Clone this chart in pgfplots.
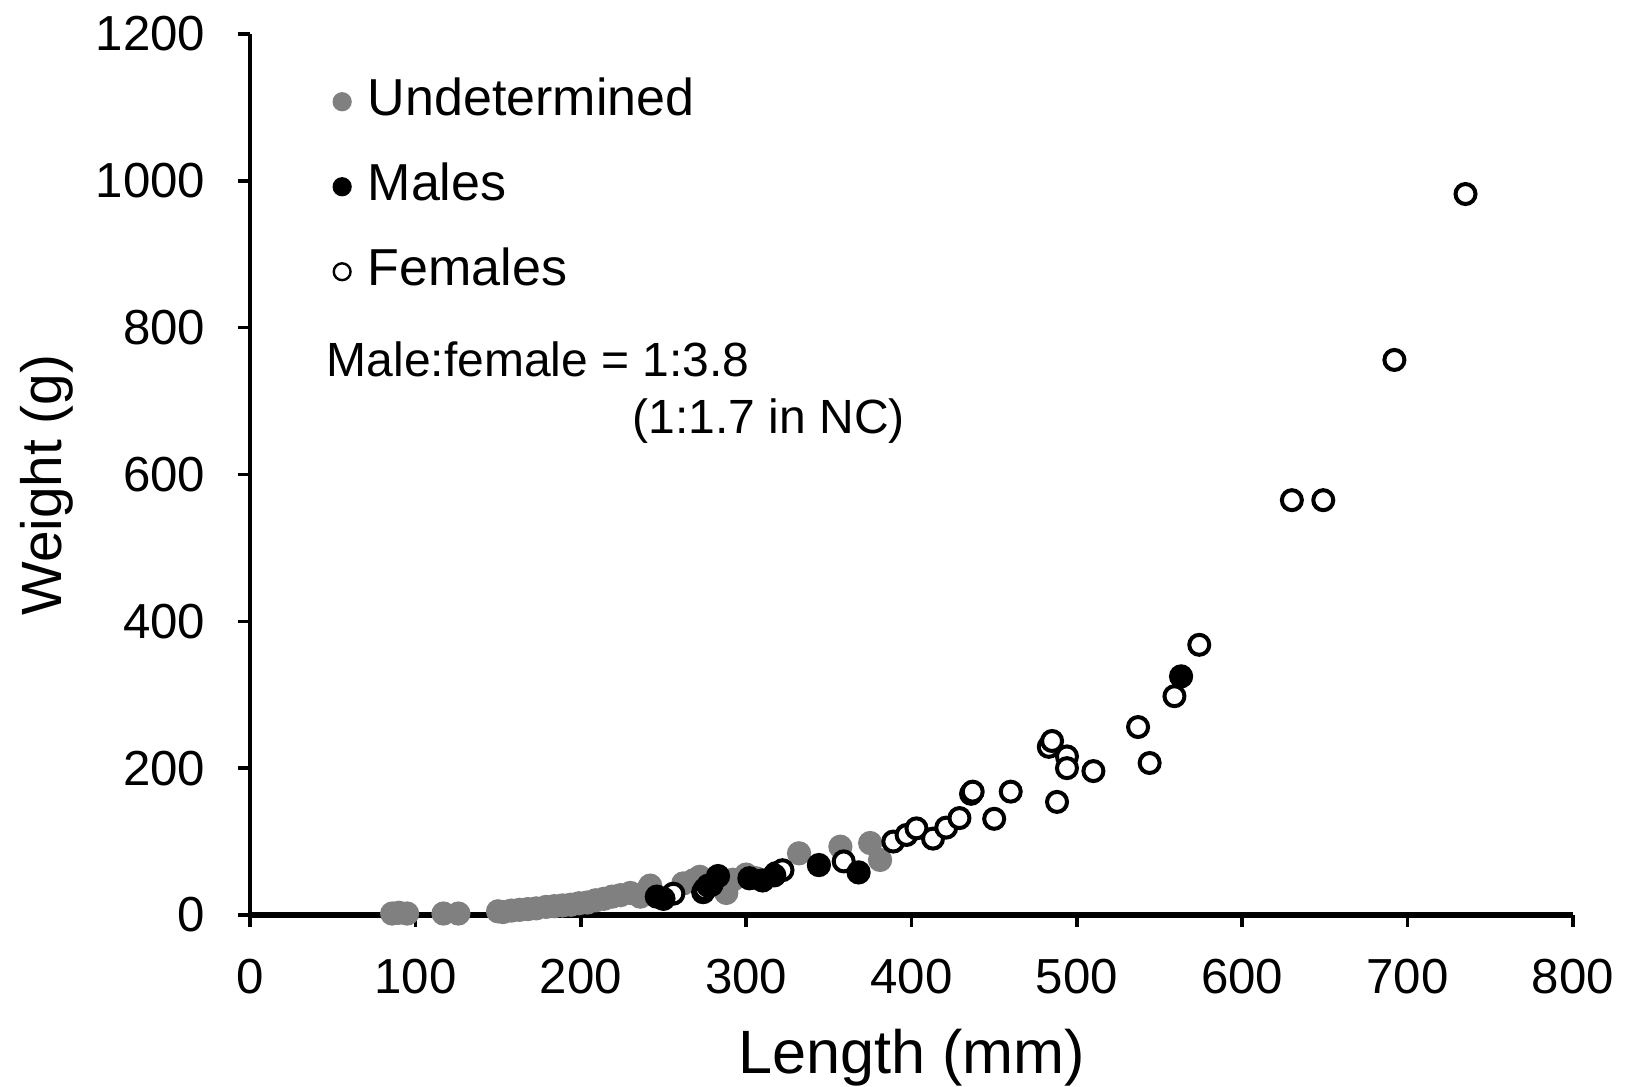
\documentclass[border=0pt]{standalone}
\usepackage{fontspec}
\setmainfont{Liberation Sans}
\usepackage{pgfplots}
\pgfplotsset{compat=1.18}
\definecolor{ugrey}{RGB}{128,128,128}
\begin{document}
\begin{tikzpicture}
\path[use as bounding box] (-62.5pt,-43pt) rectangle (344.25pt,228.75pt);
\begin{axis}[
  scale only axis, width=330.75pt, height=220.25pt,
  xmin=0, xmax=800, ymin=0, ymax=1200,
  xtick={0,100,...,800}, ytick={0,200,...,1200},
  axis x line=bottom, axis y line=left,
  x axis line style={-, line width=1.4pt},
  y axis line style={-, line width=1pt},
  tick align=outside, major tick length=3pt,
  every tick/.style={black, line width=0.9pt},
  /pgf/number format/assume math mode=true,
  /pgf/number format/1000 sep={},
  ticklabel style={font=\fontsize{12.3}{14}\selectfont},
  xticklabel style={inner sep=0pt, anchor=north, yshift=-7.75pt},
  yticklabel style={inner sep=0pt, anchor=east, xshift=-8pt},
  clip=false,
  xlabel={Length (mm)}, ylabel={Weight (g)},
  xlabel style={at={(axis description cs:0.5,-0.162)}, anchor=center, font=\fontsize{15.3}{17}\selectfont},
  ylabel style={at={(axis description cs:-0.1535,0.488)}, anchor=center, font=\fontsize{14.2}{17}\selectfont},
  legend style={draw=none, fill=none, at={(axis description cs:0.0627,0.9535)}, anchor=north west,
    inner sep=0pt, row sep=8.25pt, column sep=4.3pt,
    nodes={inner sep=0pt, text height=10pt, text depth=3pt, font=\fontsize{13}{15}\selectfont}},
  legend cell align=left,
  legend image code/.code={\draw[#1, mark size=2.1pt, every mark/.append style={line width=0.6pt}] plot coordinates {(0cm,0cm)};},
]
\addlegendimage{only marks, mark=*, mark options={draw=ugrey, fill=ugrey}}
\addlegendentry{Undetermined}
\addlegendimage{only marks, mark=*, mark options={draw=black, fill=black}}
\addlegendentry{Males}
\addlegendimage{only marks, mark=*, mark size=1.75pt, mark options={draw=black, fill=white}}
\addlegendentry{Females}

\addplot[forget plot, only marks, mark=*, mark size=2.55pt, mark options={draw=ugrey, fill=ugrey, line width=0.95pt}] coordinates {
(86,2) (90,3) (95,2) (117,2) (126,2) (150,5) (153,4) (158,6) (163,7) (168,8)
(173,9) (179,11) (184,12) (189,13) (194,14) (199,16) (204,17) (209,20) (214,22)
(219,25) (224,27) (230,30) (236,25) (240,33) (242,40) (262,43) (268,47) (272,52)
(278,45) (288,30) (292,48) (300,55) (306,50) (332,84) (357,93) (375,98) (381,75)
};
\addplot[forget plot, only marks, mark=*, mark size=2.5pt, mark options={draw=black, fill=white, line width=1pt}] coordinates {
(256,29) (274,31) (275,35) (277,40) (318,57) (322,61) (359,73) (389,100) (397,109)
(403,118) (413,104) (421,119) (429,132) (436,165) (437,168) (450,131) (460,168)
(483,229) (485,237) (488,154) (494,216) (494,200) (510,196) (537,256) (544,207)
(559,298) (574,368) (630,565) (649,565) (692,756) (735,982)
};
\addplot[forget plot, only marks, mark=*, mark size=2.55pt, mark options={draw=black, fill=black, line width=0.95pt}] coordinates {
(246,25) (250,22) (279,41) (283,53) (302,50) (310,47) (317,54) (344,68) (368,58) (563,325)
};
\node[anchor=base west, inner sep=0pt, font=\fontsize{12}{14}\selectfont] at (rel axis cs:0.0574,0.611) {Male:female = 1:3.8};
\node[anchor=base west, inner sep=0pt, font=\fontsize{12}{14}\selectfont] at (rel axis cs:0.2887,0.547) {(1:1.7 in NC)};
\end{axis}
\end{tikzpicture}
\end{document}
